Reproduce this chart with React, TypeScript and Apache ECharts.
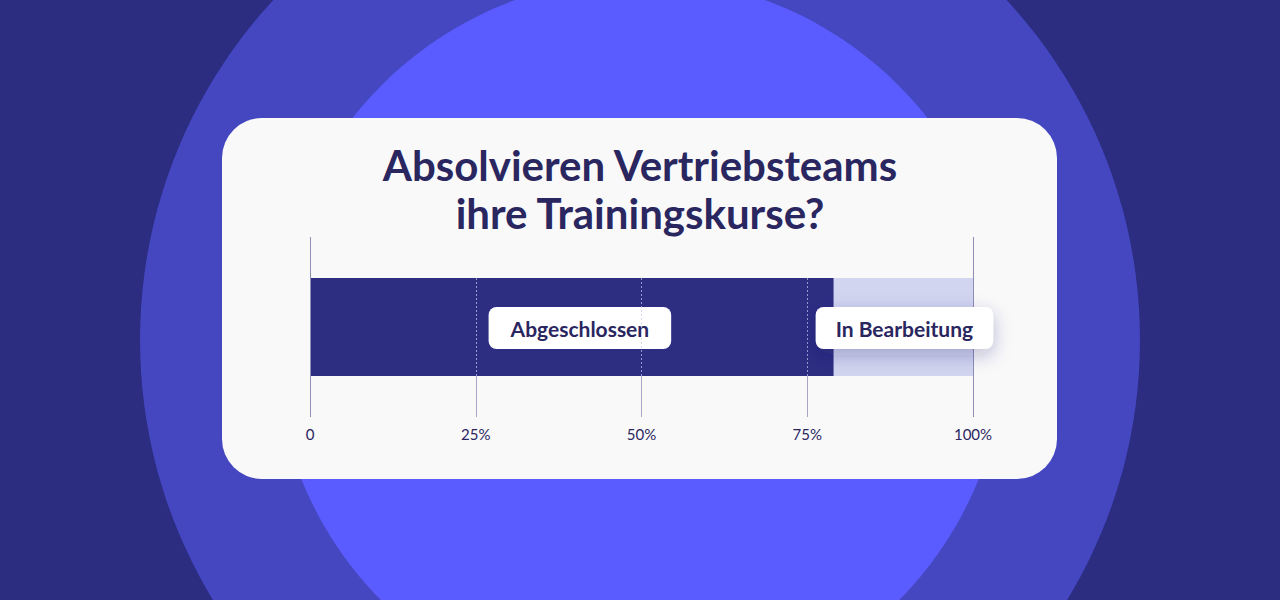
import React, { useEffect, useRef } from 'react';
import * as echarts from 'echarts';

const titleLines = ['Absolvieren Vertriebsteams', 'ihre Trainingskurse?'];
const categories = ['Vertriebsteams'];
const seriesNames = ['Abgeschlossen', 'In Bearbeitung'];
const completed = [79];
const inProgress = [21];
const tickValues = [0, 25, 50, 75, 100];
const tickLabels = ['0', '25%', '50%', '75%', '100%'];
const edgeLines = [0, 100];

const NAVY = '#2c2c80';
const INK = '#2a2660';
const FONT = 'Lato, "Noto Sans", sans-serif';

const App: React.FC = () => {
  const chartRef = useRef<HTMLDivElement>(null);

  useEffect(() => {
    if (!chartRef.current) return;
    const chart = echarts.init(chartRef.current, undefined, { renderer: 'svg' });

    // white pill labels sitting in the middle of each segment
    const boxLabel = (offsetX: number, padX: number, shadow: boolean) => ({
      show: true,
      position: 'inside',
      offset: [offsetX, 1],
      formatter: '{a}',
      color: INK,
      fontFamily: FONT,
      fontSize: 21,
      fontWeight: 'bold',
      backgroundColor: '#ffffff',
      borderRadius: 8,
      padding: [11, padX, 10, padX],
      shadowColor: shadow ? 'rgba(40, 38, 110, 0.28)' : 'transparent',
      shadowBlur: shadow ? 18 : 0,
      shadowOffsetY: shadow ? 6 : 0,
    });

    const option: echarts.EChartsOption = {
      animation: false,
      backgroundColor: NAVY,
      textStyle: { fontFamily: FONT },
      graphic: [
        { type: 'circle', z: -20, shape: { cx: 640, cy: 340, r: 500 }, style: { fill: '#4447c0' } },
        { type: 'circle', z: -19, shape: { cx: 640, cy: 343, r: 365 }, style: { fill: '#5b5cff' } },
        { type: 'rect', z: -18, shape: { x: 222, y: 118, width: 835, height: 361, r: 40 }, style: { fill: '#f9f9fa' } },
      ],
      title: {
        text: titleLines.join('\n'),
        left: 640,
        top: 141,
        padding: 0,
        textAlign: 'center',
        textStyle: {
          color: INK,
          fontFamily: FONT,
          fontSize: 42,
          fontWeight: 'bold',
          lineHeight: 48,
        },
      },
      grid: [
        { left: 310, width: 663, top: 237, height: 180 },
        { left: 475.75, width: 331.5, top: 278, height: 98 },
        { left: 475.75, width: 331.5, top: 376, height: 41 },
      ],
      xAxis: [
        {
          type: 'value', gridIndex: 0, min: 0, max: 100, interval: 25,
          axisLine: { show: false }, axisTick: { show: false }, splitLine: { show: false },
          axisLabel: {
            margin: 9, color: INK, fontSize: 15, fontFamily: FONT,
            formatter: (v: number) => tickLabels[tickValues.indexOf(v)] ?? '',
          },
        },
        {
          // inner guides across the bar (dotted, drawn over it)
          type: 'value', gridIndex: 1, min: 25, max: 75, interval: 25, z: 1,
          axisLine: { show: false }, axisTick: { show: false }, axisLabel: { show: false },
          splitLine: { show: true, lineStyle: { color: 'rgba(200, 200, 235, 0.7)', width: 1, type: [2, 2] } },
        },
        {
          // inner guides below the bar
          type: 'value', gridIndex: 2, min: 25, max: 75, interval: 25,
          axisLine: { show: false }, axisTick: { show: false }, axisLabel: { show: false },
          splitLine: { show: true, lineStyle: { color: '#a9a7c8', width: 1 } },
        },
      ],
      yAxis: [
        { type: 'category', gridIndex: 0, data: categories, show: false },
        { type: 'category', gridIndex: 1, data: categories, show: false },
        { type: 'category', gridIndex: 2, data: categories, show: false },
      ],
      series: [
        {
          name: seriesNames[0],
          type: 'bar',
          stack: 'total',
          barWidth: 98,
          barGap: '-100%',
          z: 0,
          data: completed,
          itemStyle: { color: '#2d2d82' },
          label: boxLabel(8, 22, false),
        },
        {
          name: seriesNames[1],
          type: 'bar',
          stack: 'total',
          barWidth: 98,
          barGap: '-100%',
          z: 0,
          data: inProgress,
          itemStyle: { color: '#d1d5f0' },
          markLine: {
            silent: true,
            symbol: 'none',
            label: { show: false },
            lineStyle: { color: '#8f8cb5', width: 1, type: 'solid' },
            data: edgeLines.map((v) => ({ xAxis: v })),
          },
        },
        // transparent copy so the second label stays above the 100% line
        {
          name: seriesNames[1],
          type: 'bar',
          stack: 'overlay',
          barWidth: 98,
          barGap: '-100%',
          z: 10,
          data: completed,
          itemStyle: { color: 'transparent' },
        },
        {
          name: seriesNames[1],
          type: 'bar',
          stack: 'overlay',
          barWidth: 98,
          barGap: '-100%',
          z: 10,
          data: inProgress,
          itemStyle: { color: 'transparent' },
          label: boxLabel(1, 20, true),
        },
      ],
    };

    chart.setOption(option);
    return () => chart.dispose();
  }, []);

  return (
    <div
      ref={chartRef}
      style={{ position: 'absolute', left: 0, top: 0, width: 1280, height: 600 }}
    />
  );
};

export default App;
